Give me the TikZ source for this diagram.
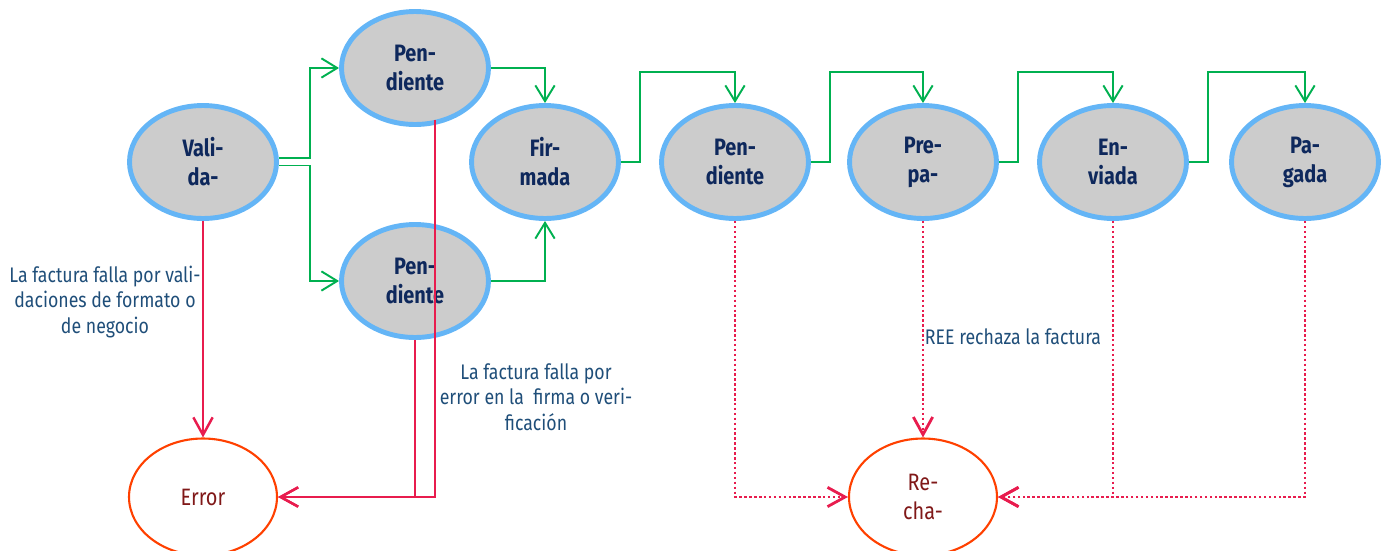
\documentclass[tikz,border=0pt]{standalone}
\usepackage{fontspec}
\setmainfont[FakeStretch=0.84]{Fira Sans}
\usepackage{tikz}
\usetikzlibrary{arrows.meta}
\usetikzlibrary{shapes.geometric}
\usetikzlibrary{positioning}

\definecolor{stateblue}{RGB}{100,181,246}
\definecolor{stategray}{RGB}{204,204,204}
\definecolor{statetext}{RGB}{14,40,92}
\definecolor{okgreen}{RGB}{0,176,80}
\definecolor{failred}{RGB}{232,28,78}
\definecolor{endorange}{RGB}{255,64,0}
\definecolor{endtext}{RGB}{128,24,24}
\definecolor{notetext}{RGB}{31,78,121}

\tikzset{every state/.style={ellipse, draw=stateblue, fill=stategray,
    line width=2.8pt, minimum width=2.94cm, minimum height=2.26cm,
    text=statetext, align=center, font=\fontsize{13.5}{16.5}\selectfont\bfseries}}

\begin{document}
\begin{tikzpicture}[x=0.02cm, y=-0.02cm,
      endstate/.style={ellipse, draw=endorange, line width=1.2pt,
        minimum width=2.96cm, minimum height=2.34cm, text=endtext,
        align=center, font=\fontsize{13.5}{17}\selectfont},
      note/.style={text=notetext, align=center,
        font=\fontsize{12}{14.4}\selectfont},
      ok/.style={draw=okgreen, line width=1.1pt,
        -{Straight Barb[length=9pt,width=11pt]}},
      fail/.style={draw=failred, line width=1.4pt,
        -{Straight Barb[length=10pt,width=11pt]}},
      rej/.style={fail, line width=1.6pt, dash pattern=on 1.4pt off 1.4pt}]
      \useasboundingbox (0,0) rectangle (1387,551);

      % states
      \node[every state] (val) at (203,162) {Vali-\\da-};
      \node[every state] (pen1) at (415,68) {Pen-\\diente};
      \node[every state] (pen2) at (415,281) {Pen-\\diente};
      \node[every state] (fir) at (545,162) {Fir-\\mada};
      \node[every state] (pen3) at (735,162) {Pen-\\diente};
      \node[every state] (pre) at (923,162) {Pre-\\pa-};
      \node[every state] (env) at (1113,162) {En-\\viada};
      \node[every state] (pag) at (1305,162) {Pa-\\gada};

      \node[endstate] (err) at (203,497) {Error};
      \node[endstate] (rech) at (923,497) {Re-\\cha-};

      % labels
      \node[note] (valnote) at (105,302)
        {La factura falla por vali-\\daciones de formato o\\de negocio};
      \node[note] (firnote) at (536,397)
        {La factura falla por\\error en la\ \ firma o veri-\\ficación};
      \node[note] (reenote) at (1013,337) {REE rechaza la factura};

      % good path
      \draw[ok] ([yshift=2.5pt]val.east) -- ++(31,0) |- (pen1.west);
      \draw[ok] ([yshift=-2pt]val.east) -- ++(31,0) |- (pen2.west);
      \draw[ok] (pen1.east) -| (fir.north);
      \draw[ok] (pen2.east) -| (fir.south);
      \foreach \a/\b in {fir/pen3, pen3/pre, pre/env, env/pag}
        \draw[ok] (\a.east) -| ++(19,-90) -| (\b.north);

      % errors
      \draw[fail] (val.south) -- (err.north);
      \draw[fail] ([xshift=11.4pt,yshift=4pt]pen1.south) |- (err.east);
      \draw[fail] (pen2.south) |- (err.east);

      % rejections
      \draw[rej] (pen3.south) |- (rech.west);
      \draw[rej] (pre.south) -- (rech.north);
      \draw[rej] (env.south) |- (rech.east);
      \draw[rej] (pag.south) |- (rech.east);
    \end{tikzpicture}
\end{document}
